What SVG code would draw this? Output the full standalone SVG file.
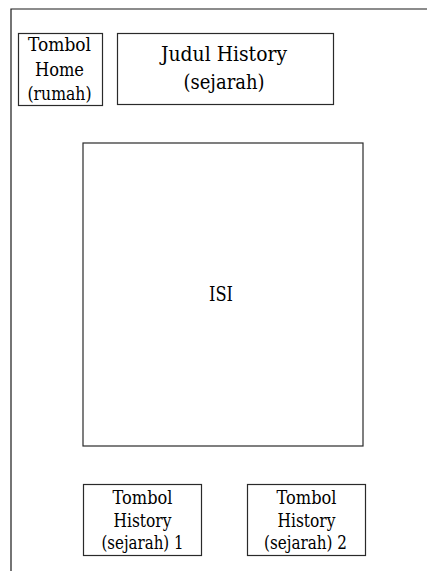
<svg xmlns="http://www.w3.org/2000/svg" width="427" height="571" viewBox="0 0 427 571">
  <style>
    .box { fill: #ffffff; stroke: #2a2a2a; stroke-width: 1.2; }
    .frame { fill: none; stroke: #1a1a1a; stroke-width: 1.2; }
    text { font-family: "DejaVu Serif", "Liberation Serif", serif; fill: #000000; text-anchor: middle; }
    .s19 { font-size: 18px; }
    .s22 { font-size: 20px; }
  </style>
  <rect width="427" height="571" fill="#ffffff"/>

  <!-- page frame: top and left edges -->
  <path class="frame" d="M11,571 V9 H427"/>

  <g id="tombol-home">
    <rect class="box" x="18.5" y="33.5" width="84" height="72"/>
    <text class="s19" x="59.5" y="51" textLength="63" lengthAdjust="spacingAndGlyphs">Tombol</text>
    <text class="s19" x="59.5" y="76" textLength="49" lengthAdjust="spacingAndGlyphs">Home</text>
    <text class="s19" x="59.5" y="100" textLength="64" lengthAdjust="spacingAndGlyphs">(rumah)</text>
  </g>

  <g id="judul-history">
    <rect class="box" x="117.5" y="33.5" width="216" height="71"/>
    <text class="s22" x="224" y="61" textLength="126" lengthAdjust="spacingAndGlyphs">Judul History</text>
    <text class="s22" x="224" y="89" textLength="81" lengthAdjust="spacingAndGlyphs">(sejarah)</text>
  </g>

  <g id="isi">
    <rect class="box" x="83" y="143" width="280" height="303"/>
    <text class="s22" x="221" y="301" textLength="24" lengthAdjust="spacingAndGlyphs">ISI</text>
  </g>

  <g id="tombol-history-1">
    <rect class="box" x="83.5" y="484.5" width="118" height="71"/>
    <text class="s19" x="142.5" y="504" textLength="60" lengthAdjust="spacingAndGlyphs">Tombol</text>
    <text class="s19" x="142.5" y="527" textLength="58" lengthAdjust="spacingAndGlyphs">History</text>
    <text class="s19" x="142.5" y="549" textLength="82" lengthAdjust="spacingAndGlyphs">(sejarah) 1</text>
  </g>

  <g id="tombol-history-2">
    <rect class="box" x="247.5" y="484.5" width="118" height="71"/>
    <text class="s19" x="306.5" y="504" textLength="60" lengthAdjust="spacingAndGlyphs">Tombol</text>
    <text class="s19" x="306.5" y="527" textLength="58" lengthAdjust="spacingAndGlyphs">History</text>
    <text class="s19" x="305.5" y="549" textLength="83" lengthAdjust="spacingAndGlyphs">(sejarah) 2</text>
  </g>

  <g id="connectors"/>
</svg>
